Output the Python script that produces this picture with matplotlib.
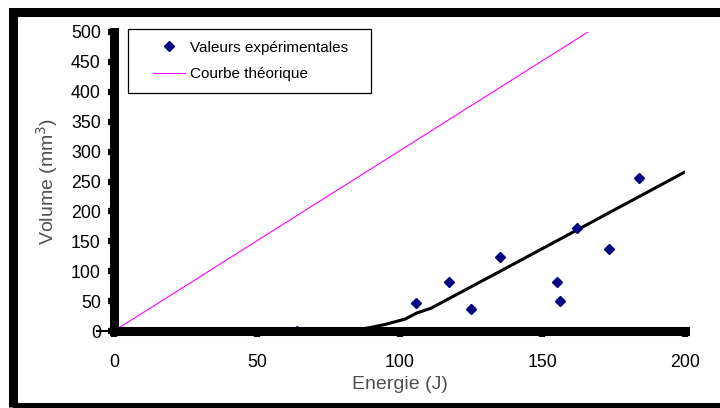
import matplotlib.pyplot as plt
import matplotlib.patches as patches

plt.rcParams['font.family'] = ['Liberation Sans', 'DejaVu Sans']

# Données expérimentales
energie_exp = [0, 64, 105.8, 117.2, 125.2, 135.2, 155.2, 156.2, 162.2, 173.4, 183.9]
volume_exp = [0, 0, 47, 82, 37, 124, 82, 50, 172, 137, 256]

# Courbe théorique (droite)
energie_theo = [0, 166]
volume_theo = [0, 500]

# Courbe ajustée (noire)
energie_fit = [0, 80, 86, 90, 95, 102, 106, 111, 140, 170, 200]
volume_fit = [0, 0, 3, 6, 11, 20, 30, 38, 112, 189, 266]

x_ticks = [0, 50, 100, 150, 200]
y_ticks = [0, 50, 100, 150, 200, 250, 300, 350, 400, 450, 500]

fig = plt.figure(figsize=(7.2, 4.08), dpi=100)
ax = fig.add_axes([114 / 720, 77 / 408, 571 / 720, 299 / 408])

ax.plot(energie_theo, volume_theo, color='#FF00FF', lw=0.8, label='Courbe théorique', zorder=2)
ax.plot(energie_fit, volume_fit, color='black', lw=2.2, zorder=2)
ax.plot(energie_exp, volume_exp, 'D', color='#000080', markersize=5.5, ls='none',
        label='Valeurs expérimentales', zorder=2)

ax.set_xlim(0, 200)
ax.set_ylim(0, 500)
ax.set_xticks(x_ticks)
ax.set_yticks(y_ticks)

# Axes épais
for side in ['top', 'right']:
    ax.spines[side].set_visible(False)
for side in ['left', 'bottom']:
    ax.spines[side].set_linewidth(6.5)
    ax.spines[side].set_capstyle('projecting')
    ax.spines[side].set_zorder(3)
ax.tick_params(axis='both', length=4.5, width=4.5, labelsize=12.8, color='black')
ax.tick_params(axis='x', pad=12)
ax.tick_params(axis='y', pad=5)
ax.plot([-0.03, 0], [0, 0], transform=ax.transAxes, clip_on=False, color='black', lw=1.5)

ax.set_xlabel('Energie (J)', fontsize=14, color='#505050', labelpad=4)
ax.set_ylabel('Volume (mm$^3$)', fontsize=14, color='#505050', labelpad=8)

# Légende avec cadre rectangulaire
handles, labels = ax.get_legend_handles_labels()
ax.legend(handles[::-1], labels[::-1], loc='center', bbox_to_anchor=(0.2393, 0.903),
          frameon=False, fontsize=11, handlelength=2.1, handletextpad=0.35,
          labelspacing=0.85, borderpad=0)
ax.add_patch(patches.Rectangle((0.0245, 0.796), 0.4256, 0.214, transform=ax.transAxes,
                               fill=False, edgecolor='black', lw=0.9, clip_on=False))

# Cadre noir autour de la figure
fig.add_artist(patches.Rectangle((12.5 / 720, 1 / 408), 1.1, 395.5 / 408,
                                 transform=fig.transFigure, fill=False,
                                 edgecolor='black', lw=6.5))

fig.savefig('out.png', dpi=100)
